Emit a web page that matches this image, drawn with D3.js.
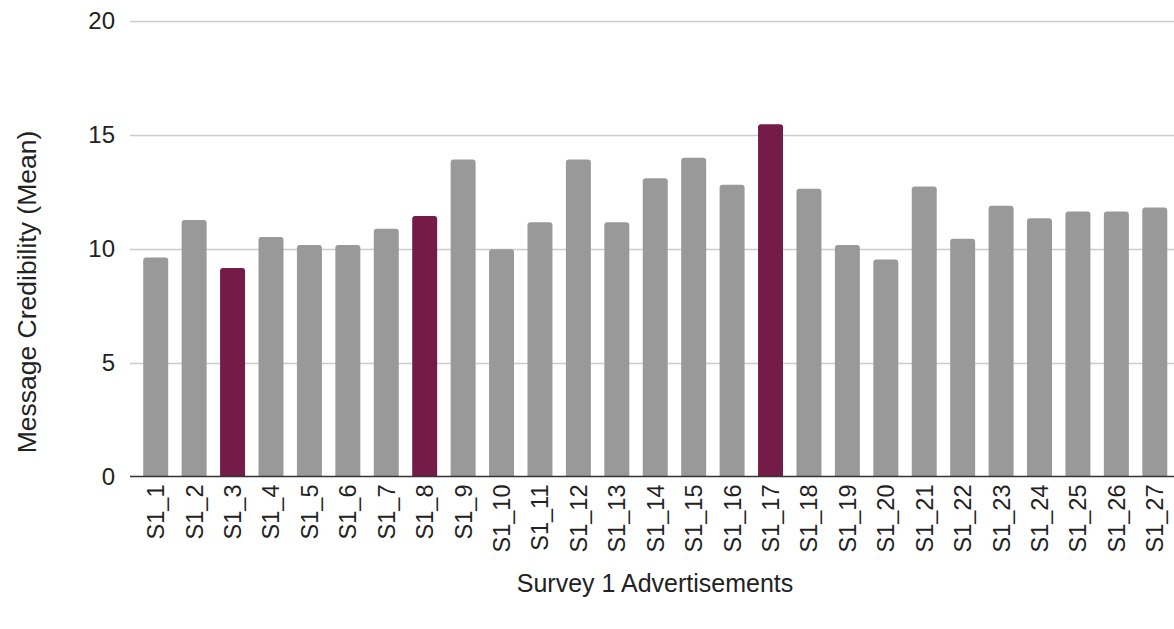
<!DOCTYPE html>
<html>
<head>
<meta charset="utf-8">
<script src="https://cdn.jsdelivr.net/npm/d3@7"></script>
<style>
  body { margin: 0; background: #fff; }
  text { font-family: "Liberation Sans", Arial, sans-serif; }
</style>
</head>
<body>
<div id="chart"></div>
<script>
// ads and their mean credibility scores
var ads = ["S1_1","S1_2","S1_3","S1_4","S1_5","S1_6","S1_7","S1_8","S1_9","S1_10",
  "S1_11","S1_12","S1_13","S1_14","S1_15","S1_16","S1_17","S1_18","S1_19","S1_20",
  "S1_21","S1_22","S1_23","S1_24","S1_25","S1_26","S1_27"];
var means = [9.6, 11.25, 9.15, 10.5, 10.15, 10.15, 10.87, 11.42, 13.9, 9.97,
  11.15, 13.9, 11.15, 13.08, 13.98, 12.8, 15.45, 12.62, 10.15, 9.52,
  12.72, 10.43, 11.88, 11.33, 11.62, 11.62, 11.8];
var highlighted = ["S1_3", "S1_8", "S1_17"];
var yTicks = [0, 5, 10, 15, 20];

var svgWidth = 1174;
var svgHeight = 629;

var margin = { top: 20.5, right: 0, bottom: 152.5, left: 130 };

var svg = d3.select("#chart").append("svg")
  .attr("width", svgWidth)
  .attr("height", svgHeight);

var chartHeight = svgHeight - margin.top - margin.bottom;

var yScale = d3.scaleLinear()
  .domain([0, 20])
  .range([margin.top + chartHeight, margin.top]);

var xScale = d3.scaleBand()
  .domain(ads)
  .range([136.5, svgWidth])
  .paddingInner(0.35)
  .paddingOuter(0.175);

// gridlines
svg.append("g")
  .selectAll("line")
  .data(yTicks.filter(d => d > 0))
  .enter()
  .append("line")
  .attr("x1", margin.left)
  .attr("x2", svgWidth)
  .attr("y1", d => Math.round(yScale(d)) + 0.5)
  .attr("y2", d => Math.round(yScale(d)) + 0.5)
  .attr("stroke", "#cccccc")
  .attr("stroke-width", 1.5);

// y tick labels
svg.append("g")
  .selectAll("text")
  .data(yTicks)
  .enter()
  .append("text")
  .attr("x", 115)
  .attr("y", d => yScale(d))
  .attr("dy", "0.36em")
  .attr("text-anchor", "end")
  .attr("font-size", 24)
  .attr("fill", "#222")
  .text(d => d);

// bars
svg.append("g")
  .selectAll("path")
  .data(means)
  .enter()
  .append("path")
  .attr("d", function(d, i) {
    var x = xScale(ads[i]), w = xScale.bandwidth();
    var y = yScale(d), y0 = yScale(0), r = 3;
    return `M${x},${y0}V${y + r}Q${x},${y} ${x + r},${y}H${x + w - r}Q${x + w},${y} ${x + w},${y + r}V${y0}Z`;
  })
  .attr("fill", (d, i) => highlighted.includes(ads[i]) ? "#741b47" : "#999999");

// baseline
svg.append("line")
  .attr("x1", margin.left)
  .attr("x2", svgWidth)
  .attr("y1", yScale(0))
  .attr("y2", yScale(0))
  .attr("stroke", "#333")
  .attr("stroke-width", 1.5);

// x labels rotated
svg.append("g")
  .selectAll("text")
  .data(ads)
  .enter()
  .append("text")
  .attr("transform", d => `translate(${xScale(d) + xScale.bandwidth() / 2}, ${yScale(0) + 8}) rotate(-90)`)
  .attr("dy", "0.36em")
  .attr("text-anchor", "end")
  .attr("font-size", 23.5)
  .attr("fill", "#222")
  .text(d => d);

// axis titles
svg.append("text")
  .attr("x", 655)
  .attr("y", 592)
  .attr("text-anchor", "middle")
  .attr("font-size", 25)
  .attr("fill", "#222")
  .text("Survey 1 Advertisements");

svg.append("text")
  .attr("transform", "translate(26, 292) rotate(-90)")
  .attr("dy", "0.36em")
  .attr("text-anchor", "middle")
  .attr("font-size", 26.5)
  .attr("fill", "#222")
  .text("Message Credibility (Mean)");
</script>
</body>
</html>
